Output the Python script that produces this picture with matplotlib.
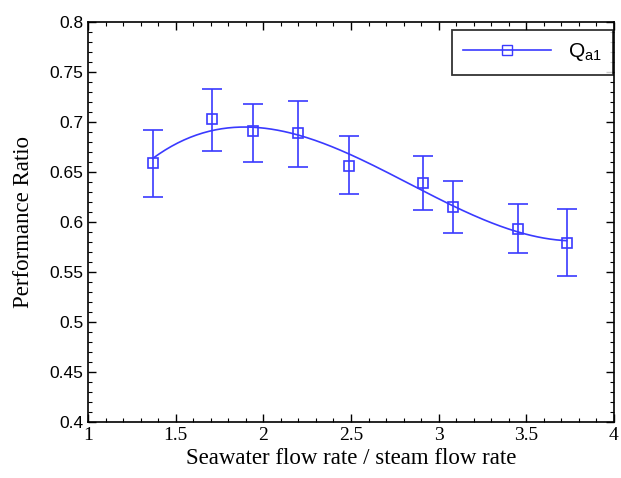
import numpy as np
import matplotlib
matplotlib.use("Agg")
import matplotlib.pyplot as plt
from matplotlib.ticker import MultipleLocator

# Data
flow_ratio = [1.37, 1.71, 1.94, 2.20, 2.49, 2.91, 3.08, 3.45, 3.73]
perf_ratio = [0.659, 0.703, 0.691, 0.689, 0.656, 0.639, 0.615, 0.593, 0.579]
err_upper = [0.692, 0.733, 0.718, 0.721, 0.686, 0.666, 0.641, 0.618, 0.613]
err_lower = [0.625, 0.671, 0.660, 0.655, 0.628, 0.612, 0.589, 0.569, 0.546]
series_label = r"Q$_{\mathrm{a1}}$"

x = np.array(flow_ratio)
y = np.array(perf_ratio)
yerr = np.vstack([y - np.array(err_lower), np.array(err_upper) - y])

blue = "#3a3aff"
plt.rcParams["font.family"] = ["Liberation Serif", "DejaVu Serif"]
plt.rcParams["mathtext.fontset"] = "custom"
plt.rcParams["mathtext.rm"] = "Liberation Sans"

fig = plt.figure(figsize=(6.21, 4.78), dpi=100)
ax = fig.add_axes([0.1417, 0.117, 0.8470, 0.837])

# smooth fitted curve
coef = np.polyfit(x, y, 3)
xs = np.linspace(x.min(), x.max(), 200)
ax.plot(xs, np.polyval(coef, xs), color=blue, lw=1.2, zorder=2)

ax.errorbar(x, y, yerr=yerr, fmt="none", ecolor=blue, elinewidth=1.2,
            capsize=7, capthick=1.2, zorder=3)
ax.plot(x, y, linestyle="none", marker="s", markersize=7.5,
        markerfacecolor="none", markeredgecolor=blue, markeredgewidth=1.2, zorder=4)

# legend proxy
ax.plot([], [], color=blue, lw=1.2, marker="s", markersize=7.5,
        markerfacecolor="none", markeredgecolor=blue, label=series_label)
leg = ax.legend(loc="upper right", frameon=True, fancybox=False, handlelength=4.2,
                prop={"family": "Liberation Sans", "size": 15}, borderpad=0.55,
                borderaxespad=0.0, bbox_to_anchor=(0.998, 0.98))
leg.get_frame().set_edgecolor("black")
leg.get_frame().set_linewidth(1.3)

ax.set_xlim(1, 4)
ax.set_ylim(0.4, 0.8)
ax.xaxis.set_major_locator(MultipleLocator(0.5))
ax.xaxis.set_minor_locator(MultipleLocator(0.1))
ax.yaxis.set_major_locator(MultipleLocator(0.05))
ax.yaxis.set_minor_locator(MultipleLocator(0.01))
ax.set_xticklabels([f"{v:g}" for v in ax.get_xticks()], fontsize=14)
ax.set_yticklabels([f"{v:g}" for v in ax.get_yticks()],
                   fontsize=12.5, family="Liberation Sans")

ax.tick_params(which="both", direction="in", top=True, right=True)
ax.tick_params(which="major", length=6, width=1)
ax.tick_params(which="minor", length=3, width=0.8)
for s in ax.spines.values():
    s.set_linewidth(1.2)

ax.set_xlabel("Seawater flow rate / steam flow rate", fontsize=16.5, labelpad=3)
ax.set_ylabel("Performance Ratio", fontsize=16.5, labelpad=11)

fig.savefig("out.png", dpi=100)
